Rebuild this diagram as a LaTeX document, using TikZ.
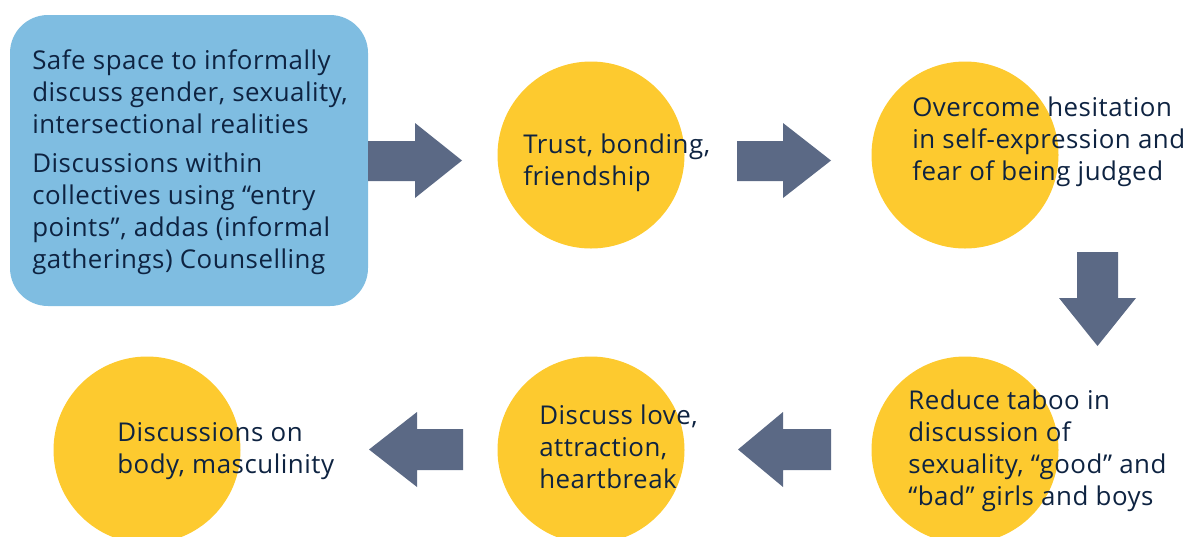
\documentclass[tikz,border=0pt]{standalone}
\usepackage{fontspec}
\setmainfont[LetterSpace=2]{Open Sans}

\definecolor{boxblue}{HTML}{7FBDE1}
\definecolor{sunyellow}{HTML}{FDCA2F}
\definecolor{arrowgrey}{HTML}{5B6985}
\definecolor{inknavy}{HTML}{0E2341}

\begin{document}
\begin{tikzpicture}[x=0.75pt,y=-0.75pt,
  stage/.style={circle,fill=sunyellow,minimum size=140.25pt,inner sep=0pt},
  words/.style={anchor=base west,align=left,inner sep=0pt,text=inknavy,
    font=\fontsize{19.4pt}{24pt}\selectfont},
  blockarrow/.style={fill=arrowgrey}]
\useasboundingbox (0,0) rectangle (1187,536);
\clip (0,0) rectangle (1187,536);
% start box
\node (safe) at (189,160.5) [rectangle,rounded corners=28.5pt,fill=boxblue,
  minimum width=268.5pt,minimum height=218.25pt] {};
\node (safetext) at (32,268) [words] {Safe space to informally\\discuss gender, sexuality,\\intersectional realities\\[5.25pt]Discussions within\\collectives using “entry\\points”, addas (informal\\gatherings) Counselling};
% circles
\node (trust) at (591,155) [stage] {};
\node (overcome) at (965,155) [stage] {};
\node (taboo) at (965,450) [stage] {};
\node (love) at (591,450) [stage] {};
\node (body) at (147,450) [stage] {};
% texts
\node (trusttext) at (523,185) [words] {Trust, bonding,\\friendship};
\node (overcometext) at (912,180) [words] {Overcome hesitation\\in self-expression and\\fear of being judged};
\node (tabootext) at (908,505) [words] {Reduce taboo in\\discussion of\\sexuality, “good” and\\“bad” girls and boys};
\node (lovetext) at (539,488) [words] {Discuss love,\\attraction,\\heartbreak};
\node (bodytext) at (117,473) [words] {Discussions on\\body, masculinity};
% arrows
\fill[blockarrow] (368,141) -- (415,141) -- (415,123) -- (462,160.5) -- (415,198) -- (415,181) -- (368,181) -- cycle;
\fill[blockarrow] (737,141) -- (783,141) -- (783,123) -- (831,160.5) -- (783,198) -- (783,181) -- (737,181) -- cycle;
\fill[blockarrow] (1077,252) -- (1118,252) -- (1118,298) -- (1136,298) -- (1097.5,346) -- (1059,298) -- (1077,298) -- cycle;
\fill[blockarrow] (831,429) -- (783,429) -- (783,412) -- (738,449.5) -- (783,487) -- (783,470) -- (831,470) -- cycle;
\fill[blockarrow] (463,429) -- (417,429) -- (417,412) -- (369,449.5) -- (417,487) -- (417,470) -- (463,470) -- cycle;
\end{tikzpicture}
\end{document}
